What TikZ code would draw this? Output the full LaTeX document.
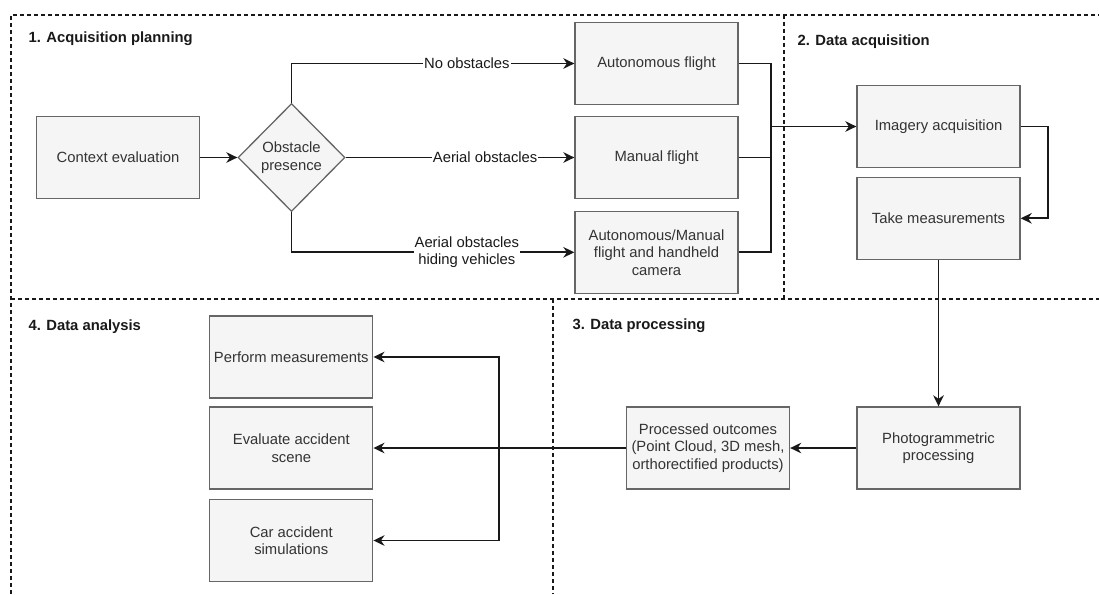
\documentclass[tikz,border=0pt]{standalone}
\usepackage{fontspec}
\setmainfont{Liberation Sans}
\usetikzlibrary{shapes.geometric,arrows.meta}
\definecolor{boxfill}{HTML}{F5F5F5}
\definecolor{boxline}{HTML}{666666}
\definecolor{boxtext}{HTML}{333333}
\tikzset{
  stageline/.style={draw=black!90, line width=1.2pt, dash pattern=on 4pt off 3pt},
  stagetitle/.style={anchor=west, font=\fontsize{14.8}{17.5}\selectfont\bfseries, text=black!90},
  taskbox/.style={rectangle, draw=boxline, fill=boxfill, line width=1.3pt, text=boxtext,
    minimum width=163pt, minimum height=82pt, align=center, inner sep=2pt,
    font=\fontsize{14.8}{17.5}\selectfont},
  choice/.style={diamond, aspect=1, draw=boxline, fill=boxfill, line width=1.3pt, text=boxtext,
    minimum width=107pt, minimum height=108pt, inner sep=0pt, align=center,
    font=\fontsize{14.8}{17.5}\selectfont},
  link/.style={line width=1.9pt, draw=black!90},
  flow/.style={link, -{Stealth[length=11pt,width=10.5pt,inset=3.5pt]}},
  pathlabel/.style={fill=white, inner sep=1pt, text=black!90, align=center,
    font=\fontsize{14.8}{17.5}\selectfont}
}

\begin{document}
\begin{tikzpicture}[x=1pt,y=-1pt]
		%%%%% START %%%%%
		\useasboundingbox (0,0) rectangle (1099,594);
		
		% stage borders
		\draw[stageline] (11,594) -- (11,15) -- (1099,15);
		\draw[stageline] (11,299) -- (1099,299);
		\draw[stageline] (784,15) -- (784,299);
		\draw[stageline] (553,299) -- (553,594);
		
		\node[stagetitle] (t1) at (25,39) {1. Acquisition planning};
		\node[stagetitle] (t2) at (794,42) {2. Data acquisition};
		\node[stagetitle] (t3) at (569,326) {3. Data processing};
		\node[stagetitle] (t4) at (25,327) {4. Data analysis};
		
		% 1. acquisition planning
		\node[taskbox] (ctx) at (118,157.5) {Context evaluation};
		\node[choice] (obs) at (291.5,157.5) {Obstacle\\presence};
		\node[taskbox] (auto) at (656.5,63.5) {Autonomous flight};
		\node[taskbox] (manual) at (656.5,157.5) {Manual flight};
		\node[taskbox] (hand) at (656.5,252.3) {Autonomous/Manual\\flight and handheld\\camera};
		\coordinate (join) at (770.7,126.5);
		
		% 2. data acquisition
		\node[taskbox] (img) at (938.5,126.5) {Imagery acquisition};
		\node[taskbox] (meas) at (938.5,218.3) {Take measurements};
		
		% 3. data processing
		\node[taskbox] (photo) at (938.5,448) {Photogrammetric\\processing};
		\node[taskbox] (proc) at (708,448) {Processed outcomes\\(Point Cloud, 3D mesh,\\orthorectified products)};
		
		% 4. data analysis
		\node[taskbox] (perf) at (291.3,357) {Perform measurements};
		\node[taskbox] (eval) at (291.3,448) {Evaluate accident\\scene};
		\node[taskbox] (sim) at (291.3,540.5) {Car accident\\simulations};
		\coordinate (fork) at (499.3,448);
		
		% connectors
		\draw[flow] (ctx) -- (obs);
		\draw[flow] (obs.north) |- node[pathlabel, pos=0.81] (noobs) {No obstacles} (auto.west);
		\draw[flow] (obs.east) -- node[pathlabel, pos=0.61] (aerial) {Aerial obstacles} (manual.west);
		\draw[flow] (obs.south) |- node[pathlabel, pos=0.81] (hiding) {Aerial obstacles\\hiding vehicles} (hand.west);
		
		\draw[link] (auto.east) -| (join);
		\draw[link] (manual.east) -| (join);
		\draw[link] (hand.east) -| (join);
		\draw[flow] (join) -- (img.west);
		
		\draw[flow] (img.east) -- ++(27,0) |- (meas.east);
		\draw[flow] (meas.south) -- (photo.north);
		\draw[flow] (photo.west) -- (proc.east);
		\draw[flow] (proc.west) -- (eval.east);
		\draw[flow] (fork) |- (perf.east);
		\draw[flow] (fork) |- (sim.east);
		
		%%%%% END %%%%%
\end{tikzpicture}
\end{document}
